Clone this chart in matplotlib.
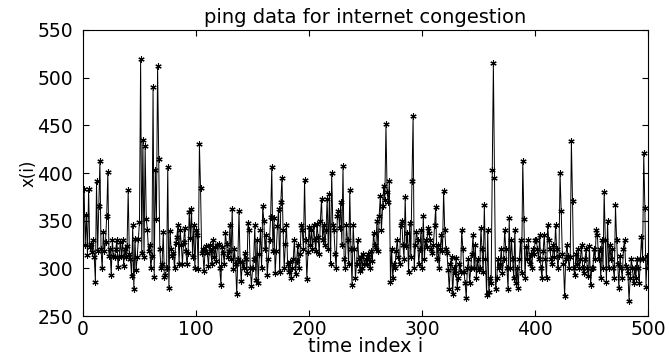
import numpy as np
import matplotlib.pyplot as plt

# ping round-trip samples, in blocks of 50
ping_000 = [383, 325, 356, 314, 383, 322, 326, 317, 330, 312, 286, 392, 318, 365, 413, 320, 300, 338, 318, 328,
            355, 401, 313, 320, 293, 330, 313, 312, 320, 330, 302, 312, 328, 313, 330, 303, 320, 312, 323, 382,
            315, 310, 292, 345, 278, 331, 298, 312, 331, 349]
ping_050 = [520, 316, 435, 312, 428, 352, 340, 318, 325, 300, 313, 490, 291, 403, 352, 512, 415, 320, 300, 305,
            338, 291, 293, 300, 406, 280, 339, 320, 313, 316, 300, 327, 333, 345, 305, 340, 325, 305, 328, 342,
            318, 305, 316, 359, 332, 362, 312, 345, 300, 340]
ping_100 = [335, 299, 430, 384, 316, 320, 297, 318, 323, 316, 303, 325, 318, 305, 330, 312, 322, 308, 325, 326,
            300, 283, 322, 316, 305, 337, 326, 312, 318, 346, 310, 362, 299, 320, 305, 273, 310, 360, 307, 287,
            307, 300, 316, 310, 295, 348, 340, 300, 282, 300]
ping_150 = [310, 345, 288, 330, 285, 315, 340, 300, 365, 350, 320, 335, 293, 310, 330, 354, 406, 318, 353, 295,
            318, 344, 362, 296, 370, 395, 340, 300, 326, 345, 305, 296, 307, 290, 300, 310, 330, 294, 308, 325,
            300, 315, 345, 340, 320, 393, 330, 289, 317, 343]
ping_200 = [325, 340, 320, 345, 330, 318, 347, 333, 315, 350, 373, 330, 345, 325, 340, 373, 320, 378, 305, 400,
            345, 340, 315, 300, 355, 360, 342, 370, 325, 407, 310, 300, 345, 330, 305, 382, 320, 283, 345, 320,
            290, 305, 330, 310, 297, 312, 300, 315, 305, 310]
ping_250 = [305, 315, 310, 300, 318, 308, 337, 325, 320, 350, 318, 355, 376, 340, 365, 386, 372, 451, 380, 370,
            392, 286, 320, 290, 305, 300, 318, 330, 312, 305, 345, 350, 325, 310, 375, 323, 337, 296, 348, 312,
            392, 460, 300, 325, 338, 330, 305, 320, 340, 300]
ping_300 = [355, 310, 330, 322, 342, 337, 330, 320, 316, 325, 345, 364, 310, 325, 300, 320, 335, 318, 381, 340,
            320, 316, 298, 278, 305, 312, 273, 300, 295, 311, 280, 290, 305, 296, 340, 320, 296, 285, 269, 300,
            310, 285, 300, 315, 335, 300, 325, 290, 310, 298]
ping_350 = [300, 342, 320, 296, 366, 310, 272, 340, 275, 290, 285, 403, 515, 395, 278, 290, 310, 300, 305, 320,
            295, 310, 340, 320, 300, 278, 353, 300, 330, 310, 290, 340, 285, 300, 280, 310, 330, 295, 413, 352,
            290, 322, 310, 330, 305, 315, 300, 320, 315, 330]
ping_400 = [330, 320, 310, 335, 300, 290, 318, 335, 310, 290, 345, 330, 320, 310, 305, 325, 312, 345, 320, 300,
            313, 400, 360, 315, 305, 271, 310, 325, 313, 300, 312, 434, 371, 300, 293, 315, 305, 320, 300, 310,
            325, 300, 295, 310, 320, 300, 292, 323, 283, 300]
ping_450 = [300, 320, 310, 340, 335, 310, 320, 290, 330, 300, 380, 330, 286, 350, 300, 325, 310, 320, 300, 290,
            366, 330, 305, 280, 313, 300, 290, 320, 330, 303, 300, 295, 266, 290, 310, 300, 285, 300, 290, 310,
            300, 285, 310, 333, 310, 421, 363, 281, 313, 300]

ping = np.array(ping_000 + ping_050 + ping_100 + ping_150 + ping_200 +
                ping_250 + ping_300 + ping_350 + ping_400 + ping_450)
idx = np.arange(1, len(ping) + 1)

xticks = [0, 100, 200, 300, 400, 500]
yticks = [250, 300, 350, 400, 450, 500, 550]

plt.rcParams['font.family'] = 'DejaVu Sans'

fig = plt.figure(figsize=(6.69, 3.56), dpi=100)
ax = fig.add_axes([0.124, 0.112, 0.845, 0.804])

ax.plot(idx, ping, color='black', linewidth=0.7,
        marker=(6, 2, 0), markersize=4.5, markeredgewidth=0.8)

ax.set_xlim(0, 500)
ax.set_ylim(250, 550)
ax.set_xticks(xticks)
ax.set_yticks(yticks)
ax.tick_params(direction='in', top=True, right=True, length=4, labelsize=13.5)
ax.tick_params(axis='y', pad=7)
ax.tick_params(axis='x', pad=3)

ax.set_title('ping data for internet congestion', fontsize=14, pad=5)
ax.set_xlabel('time index i', fontsize=14, labelpad=-2)
ax.set_ylabel('x(i)', fontsize=12, labelpad=0)

fig.savefig('out.png', dpi=100)
